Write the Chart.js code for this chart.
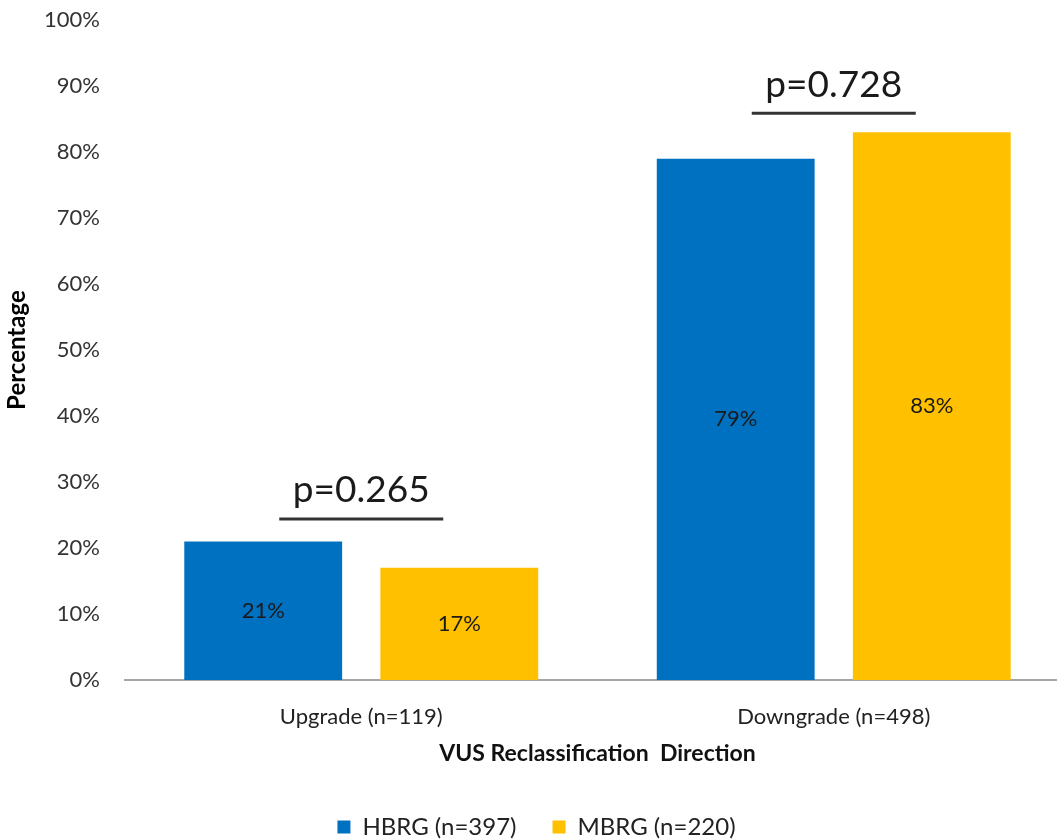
<!DOCTYPE html>
<html>
<head>
<meta charset="utf-8">
<script src="https://cdn.jsdelivr.net/npm/chart.js@4"></script>
<style>
  html, body { margin: 0; padding: 0; background: #fff; overflow: hidden; }
  #wrap { width: 1070px; height: 858px; margin-top: -18px; }
</style>
</head>
<body>
<div id="wrap"><canvas id="grafico"></canvas></div>
<script>
const categorias = ["Upgrade (n=119)", "Downgrade (n=498)"];
const hbrg = [21, 79];
const mbrg = [17, 83];
const pValores = ["p=0.265", "p=0.728"];
const pNivel = [24.4, 85.9]; // altura da linha do p-valor (%)

const fonte = "Lato, 'Liberation Sans', sans-serif";

// rótulos no meio de cada barra
const rotulosBarras = {
  id: "rotulosBarras",
  afterDatasetsDraw(chart) {
    const ctx = chart.ctx;
    ctx.save();
    ctx.font = "22px " + fonte;
    ctx.fillStyle = "#1a1a1a";
    ctx.textAlign = "center";
    ctx.textBaseline = "middle";
    chart.data.datasets.forEach((ds, i) => {
      chart.getDatasetMeta(i).data.forEach((bar, j) => {
        ctx.fillText(ds.data[j] + "%", bar.x, (bar.y + bar.base) / 2);
      });
    });
    ctx.restore();
  }
};

// p-valor com linha sobre cada grupo
const pValorPlugin = {
  id: "pValor",
  afterDatasetsDraw(chart) {
    const ctx = chart.ctx;
    const x = chart.scales.x, y = chart.scales.y;
    ctx.save();
    pValores.forEach((txt, i) => {
      const cx = x.getPixelForValue(i);
      const cy = y.getPixelForValue(pNivel[i]);
      ctx.strokeStyle = "#333";
      ctx.lineWidth = 3;
      ctx.beginPath();
      ctx.moveTo(cx - 82, cy);
      ctx.lineTo(cx + 82, cy);
      ctx.stroke();
      ctx.font = "37px " + fonte;
      ctx.fillStyle = "#1a1a1a";
      ctx.textAlign = "center";
      ctx.textBaseline = "bottom";
      ctx.fillText(txt, cx, cy - 10);
    });
    ctx.restore();
  }
};

const ctx = document.getElementById("grafico").getContext("2d");
new Chart(ctx, {
  type: "bar",
  data: {
    labels: categorias,
    datasets: [
      { label: "HBRG (n=397)", data: hbrg, backgroundColor: "#0070C0" },
      { label: "MBRG (n=220)", data: mbrg, backgroundColor: "#FFC000" }
    ]
  },
  options: {
    responsive: true,
    maintainAspectRatio: false,
    animation: false,
    categoryPercentage: 0.83,
    barPercentage: 0.805,
    layout: { padding: { left: 3, top: 0, right: 0, bottom: -9 } },
    scales: {
      y: {
        min: 0,
        max: 100,
        ticks: {
          stepSize: 10,
          padding: 25,
          color: "#333",
          font: { family: fonte, size: 22 },
          callback: v => v + "%"
        },
        grid: { display: false, drawTicks: false },
        border: { display: false },
        title: {
          display: true,
          text: "Percentage",
          color: "#000",
          padding: 0,
          font: { family: fonte, size: 24, weight: "bold" }
        },
        afterFit(scale) { scale.width = 122; }
      },
      x: {
        ticks: {
          padding: 24,
          color: "#222",
          font: { family: fonte, size: 22 }
        },
        grid: { display: false, drawTicks: false },
        border: { display: true, color: "#A6A6A6", width: 2 },
        title: {
          display: true,
          text: "VUS Reclassification  Direction",
          color: "#111",
          padding: { top: -15, bottom: 12 },
          font: { family: fonte, size: 23, weight: "bold" }
        }
      }
    },
    plugins: {
      legend: {
        position: "bottom",
        labels: {
          boxWidth: 13,
          boxHeight: 13,
          padding: 36,
          color: "#222",
          font: { family: fonte, size: 24 }
        }
      },
      tooltip: { enabled: false }
    }
  },
  plugins: [rotulosBarras, pValorPlugin]
});
</script>
</body>
</html>
